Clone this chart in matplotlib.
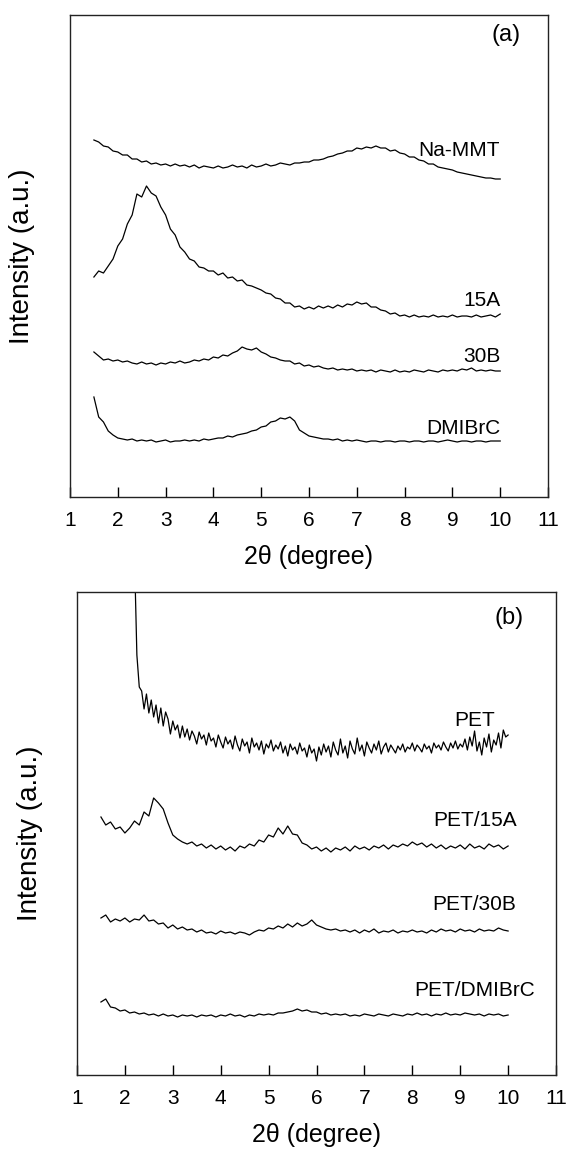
import numpy as np
import matplotlib
matplotlib.use('Agg')
import matplotlib.pyplot as plt

plt.rcParams['font.family'] = ['Liberation Sans', 'DejaVu Sans']

# 2-theta grid (degree)
two_theta = np.round(np.arange(1.5, 10.05, 0.1), 2)
two_theta_pet = np.round(np.arange(2.2, 10.025, 0.05), 2)

# ---- panel (a): clays (intensity, a.u., with offsets) ----
na_mmt = [357, 355, 351, 350, 346, 345, 342, 342, 338, 338,
          335, 336, 333, 334, 332, 333, 331, 333, 331, 332,
          330, 332, 329, 331, 330, 329, 331, 329, 330, 332,
          330, 331, 329, 332, 330, 331, 333, 331, 332, 334,
          333, 332, 334, 334, 335, 335, 337, 337, 338, 340,
          341, 343, 344, 346, 346, 349, 348, 350, 349, 351,
          349, 349, 346, 347, 344, 343, 340, 340, 337, 336,
          333, 333, 330, 329, 328, 327, 325, 324, 323, 322,
          321, 320, 319, 319, 318, 318]
c15a = [220, 226, 224, 231, 238, 251, 258, 273, 282, 303,
        300, 311, 304, 301, 290, 282, 268, 262, 250, 245,
        238, 236, 230, 229, 226, 226, 222, 224, 219, 220,
        216, 217, 212, 211, 209, 207, 204, 203, 199, 198,
        194, 194, 190, 191, 188, 190, 188, 191, 189, 191,
        189, 192, 190, 193, 192, 195, 193, 194, 190, 190,
        187, 186, 183, 184, 181, 182, 180, 182, 180, 181,
        180, 182, 180, 181, 180, 182, 180, 181, 181, 180,
        182, 180, 181, 182, 180, 183]
c30b = [145, 141, 137, 138, 136, 137, 135, 136, 134, 133,
        135, 133, 134, 132, 134, 133, 135, 134, 136, 134,
        135, 137, 136, 138, 137, 140, 139, 142, 141, 144,
        146, 150, 148, 147, 149, 145, 143, 140, 139, 137,
        136, 136, 133, 134, 131, 132, 130, 131, 129, 128,
        129, 127, 128, 127, 128, 126, 127, 126, 127, 125,
        127, 126, 125, 127, 125, 126, 125, 127, 126, 125,
        127, 126, 125, 127, 126, 127, 126, 128, 127, 129,
        126, 127, 126, 127, 126, 126]
dmibrc = [100, 80, 75, 66, 62, 59, 58, 57, 58, 56,
          57, 56, 57, 55, 56, 57, 55, 56, 56, 57,
          56, 57, 56, 58, 57, 58, 59, 59, 61, 60,
          62, 63, 64, 66, 67, 70, 71, 75, 76, 79,
          78, 80, 76, 67, 64, 61, 60, 59, 58, 58,
          57, 58, 56, 57, 56, 57, 56, 55, 56, 56,
          55, 56, 56, 55, 56, 56, 55, 56, 56, 55,
          56, 56, 55, 56, 57, 56, 55, 56, 56, 55,
          56, 56, 55, 56, 56, 56]

# ---- panel (b): PET nanocomposites ----
pet = [520, 420, 388, 384, 366, 381, 362, 375, 358, 370,
       352, 367, 349, 363, 356, 341, 354, 345, 350, 337,
       349, 338, 346, 335, 344, 339, 331, 343, 336, 340,
       330, 342, 334, 337, 328, 340, 333, 327, 338, 331,
       335, 326, 339, 330, 324, 336, 329, 333, 322, 337,
       328, 332, 325, 334, 321, 331, 327, 335, 324, 330,
       326, 333, 322, 329, 319, 331, 325, 328, 321, 332,
       324, 327, 318, 330, 322, 326, 314, 328, 320, 331,
       323, 329, 318, 333, 325, 320, 336, 322, 329, 317,
       334, 326, 321, 337, 324, 330, 319, 333, 327, 322,
       331, 325, 334, 321, 328, 332, 323, 330, 326, 322,
       329, 325, 331, 323, 328, 326, 332, 324, 330, 327,
       323, 331, 326, 329, 322, 332, 327, 330, 325, 333,
       328, 324, 332, 327, 334, 326, 331, 328, 336, 325,
       338, 329, 344, 324, 333, 320, 337, 328, 341, 323,
       335, 330, 342, 327, 345, 338, 340]
pet_15a = [258, 250, 253, 246, 248, 242, 247, 254, 250, 263,
           259, 277, 272, 266, 252, 240, 236, 233, 231, 233,
           229, 231, 227, 230, 226, 229, 225, 228, 224, 229,
           227, 231, 229, 235, 233, 240, 238, 247, 241, 249,
           241, 240, 232, 230, 226, 228, 224, 227, 223, 227,
           225, 228, 224, 229, 226, 228, 225, 229, 227, 230,
           226, 230, 228, 231, 229, 233, 230, 232, 228, 231,
           227, 230, 226, 229, 227, 230, 226, 231, 227, 229,
           226, 231, 228, 230, 226, 229]
pet_30b = [157, 160, 153, 156, 154, 157, 153, 156, 155, 160,
           154, 155, 151, 152, 147, 150, 146, 148, 145, 146,
           143, 145, 142, 143, 141, 144, 142, 143, 141, 143,
           142, 140, 143, 145, 144, 147, 146, 149, 147, 151,
           148, 152, 149, 151, 155, 150, 148, 146, 145, 146,
           144, 145, 143, 145, 142, 145, 143, 146, 142, 144,
           143, 145, 142, 144, 143, 145, 143, 144, 142, 145,
           143, 146, 144, 145, 143, 146, 144, 145, 143, 146,
           144, 145, 144, 147, 145, 144]
pet_dmibrc = [73, 76, 68, 67, 64, 65, 62, 63, 61, 62,
              60, 61, 59, 61, 59, 60, 58, 60, 59, 60,
              58, 60, 59, 60, 58, 60, 59, 61, 59, 60,
              58, 60, 59, 61, 60, 61, 60, 62, 62, 63,
              64, 66, 64, 65, 63, 63, 61, 62, 60, 61,
              60, 61, 59, 60, 59, 61, 60, 59, 61, 60,
              59, 61, 60, 59, 61, 60, 62, 60, 61, 59,
              61, 60, 62, 60, 61, 60, 62, 61, 60, 61,
              59, 61, 60, 61, 59, 60]

labels_a = ['Na-MMT', '15A', '30B', 'DMIBrC']
label_y_a = [347, 196, 140, 69]
labels_b = ['PET', 'PET/15A', 'PET/30B', 'PET/DMIBrC']
label_y_b = [355, 255, 170, 85]
xticks = list(range(1, 12))

W, H = 569, 1151
fig = plt.figure(figsize=(W / 100, H / 100), dpi=100)
ax_a = fig.add_axes([70 / W, 1 - 497 / H, 478 / W, 482 / H])
ax_b = fig.add_axes([77 / W, 1 - 1075 / H, 479 / W, 483 / H])


def style(ax, ytop, lab_x):
    ax.set_xlim(1, 11)
    ax.set_ylim(0, ytop)
    ax.set_xticks(xticks)
    ax.set_xticklabels([str(t) for t in xticks])
    ax.set_yticks([])
    ax.tick_params(axis='x', direction='in', length=7, width=1.0,
                   pad=10, labelsize=15, colors='black')
    for s in ax.spines.values():
        s.set_color('#222222')
        s.set_linewidth(1.0)
    ax.set_xlabel('2θ (degree)', fontsize=18, labelpad=11)
    ax.set_ylabel('Intensity (a.u.)', fontsize=20)
    ax.yaxis.set_label_coords(lab_x, 0.5)


lw = 0.9
ax_a.plot(two_theta, na_mmt, color='black', lw=lw)
ax_a.plot(two_theta, c15a, color='black', lw=lw)
ax_a.plot(two_theta, c30b, color='black', lw=lw)
ax_a.plot(two_theta, dmibrc, color='black', lw=lw)
for t, y in zip(labels_a, label_y_a):
    ax_a.text(10.0, y, t, ha='right', va='center', fontsize=15)
ax_a.text(10.12, 462, '(a)', ha='center', va='center', fontsize=17)
style(ax_a, 482, -0.073)

ax_b.plot(two_theta_pet, pet, color='black', lw=lw)
ax_b.plot(two_theta, pet_15a, color='black', lw=lw)
ax_b.plot(two_theta, pet_30b, color='black', lw=lw)
ax_b.plot(two_theta, pet_dmibrc, color='black', lw=lw)
for t, y in zip(labels_b, label_y_b):
    ax_b.text(9.3, y, t, ha='center', va='center', fontsize=15)
ax_b.text(10.03, 457, '(b)', ha='center', va='center', fontsize=17)
style(ax_b, 483, -0.071)

fig.savefig('out.png', dpi=100)
